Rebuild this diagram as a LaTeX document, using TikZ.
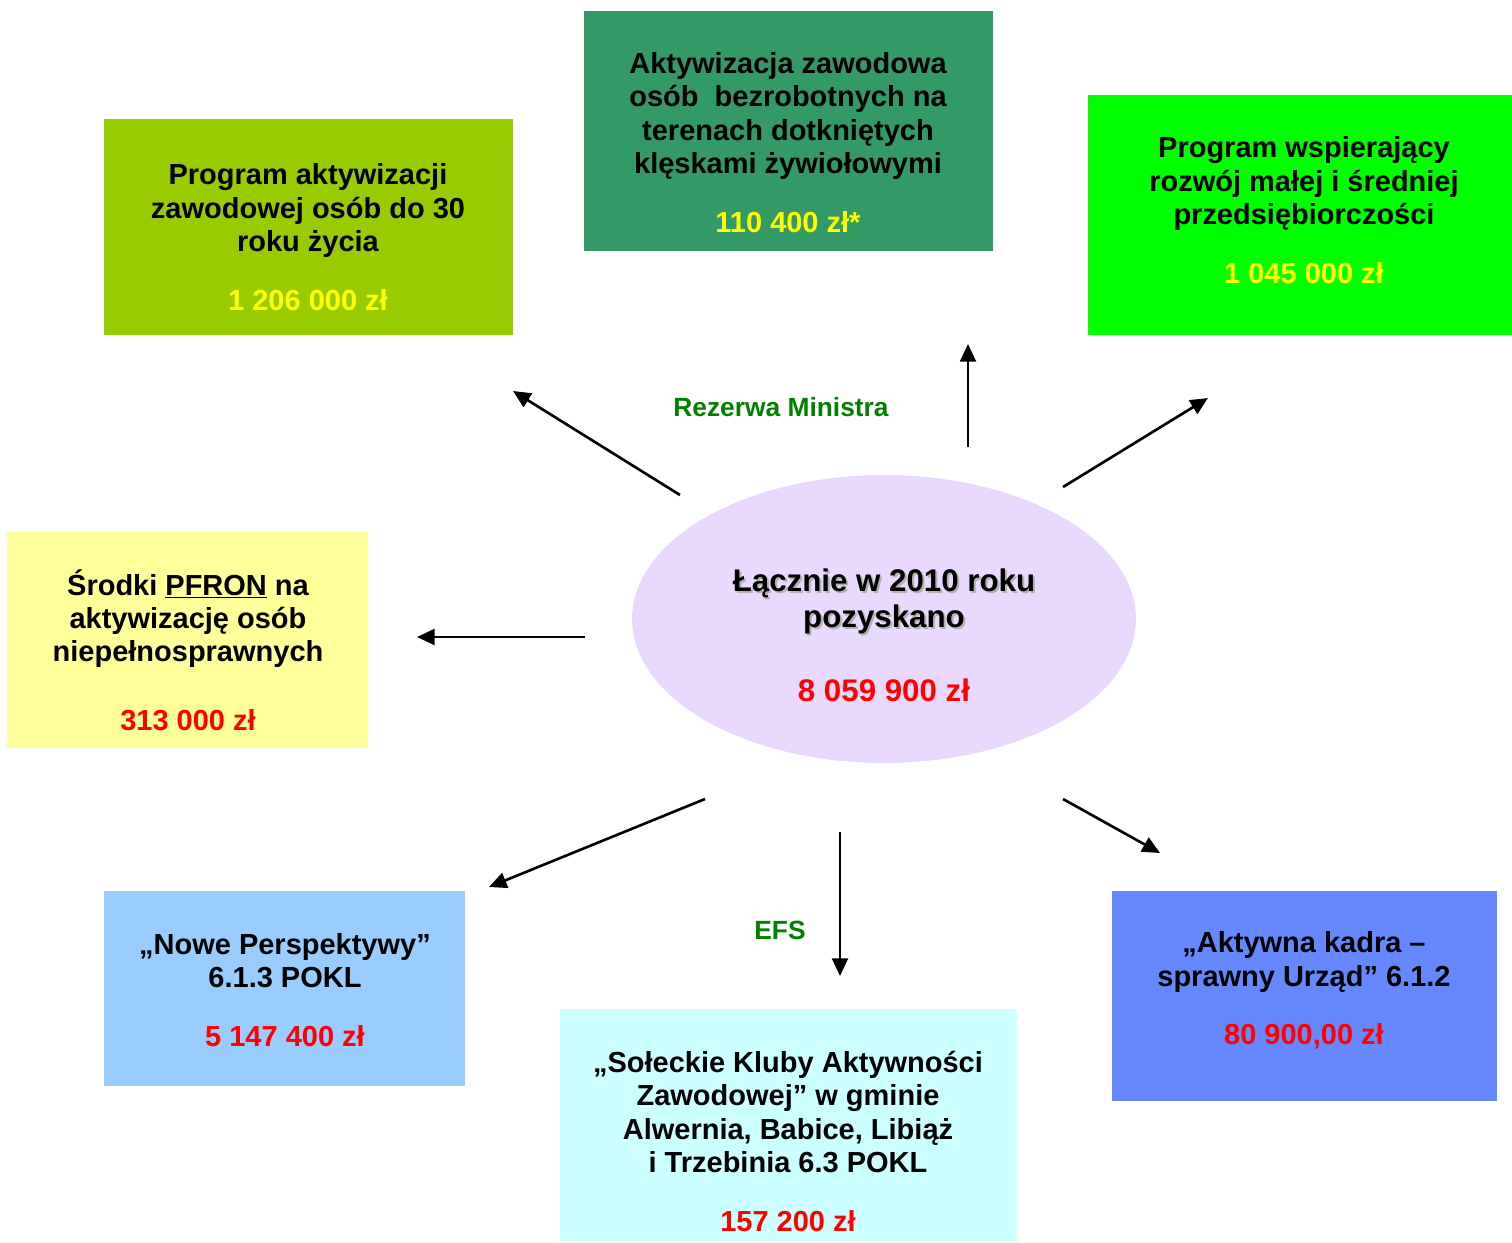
\documentclass[tikz,border=0pt]{standalone}
\usepackage{fontspec}
\setmainfont{Liberation Sans}
\usetikzlibrary{arrows.meta,shapes.geometric}
\definecolor{cOne}{HTML}{99CC00}
\definecolor{cTwo}{HTML}{339966}
\definecolor{cThree}{HTML}{00FF00}
\definecolor{cFour}{HTML}{FFFF99}
\definecolor{cEll}{HTML}{E9D9FF}
\definecolor{cSix}{HTML}{99CCFF}
\definecolor{cSeven}{HTML}{CCFFFF}
\definecolor{cEight}{HTML}{6688FF}
\definecolor{amtYellow}{HTML}{FFFF00}
\definecolor{amtRed}{HTML}{FF0000}
\definecolor{labGreen}{HTML}{008000}
\begin{document}
\begin{tikzpicture}[x=0.02cm,y=-0.02cm,
  box/.style={rectangle, draw=none, inner sep=0pt, anchor=north west},
  txt/.style={align=center, inner sep=0pt, anchor=south, font=\fontsize{16.5}{19}\selectfont\bfseries},
  ellTxt/.style={align=center, inner sep=0pt, anchor=south, font=\fontsize{17.8}{20.5}\selectfont\bfseries},
  arr/.style={-{Triangle[length=10pt,width=9pt]}, line width=1.5pt},
  lbl/.style={anchor=base, inner sep=0pt, text=labGreen, font=\fontsize{15}{18}\selectfont\bfseries}]
\useasboundingbox (0,0) rectangle (1512,1242);

% boxes
\node[box, fill=cOne, minimum width=8.18cm, minimum height=4.32cm] (b1) at (104,119) {};
\node[box, fill=cTwo, minimum width=8.18cm, minimum height=4.8cm] (b2) at (584,11) {};
\node[box, fill=cThree, minimum width=8.48cm, minimum height=4.8cm] (b3) at (1088,95) {};
\node[box, fill=cFour, minimum width=7.22cm, minimum height=4.32cm] (b4) at (7,532) {};
\node[ellipse, fill=cEll, draw=none, inner sep=0pt, minimum width=10.08cm, minimum height=5.76cm] (ell) at (884,619) {};
\node[box, fill=cSix, minimum width=7.22cm, minimum height=3.9cm] (b6) at (104,891) {};
\node[box, fill=cSeven, minimum width=9.14cm, minimum height=4.66cm] (b7) at (560,1009) {};
\node[box, fill=cEight, minimum width=7.7cm, minimum height=4.2cm] (b8) at (1112,891) {};

% texts
\node[txt] (t1) at (308,311) {Program aktywizacji\\zawodowej osób do 30\\roku życia\\[14.5pt]\textcolor{amtYellow}{1 206 000 zł}};
\node[txt] (t2) at (788,233) {Aktywizacja zawodowa\\osób \ bezrobotnych na\\terenach dotkniętych\\klęskami żywiołowymi\\[14.5pt]\textcolor{amtYellow}{110 400 zł*}};
\node[txt] (t3) at (1304,284) {Program wspierający\\rozwój małej i średniej\\przedsiębiorczości\\[14.5pt]\textcolor{amtYellow}{1 045 000 zł}};
\node[txt] (t4) at (188,731) {Środki \underline{PFRON} na\\aktywizację osób\\niepełnosprawnych\\[20pt]\textcolor{amtRed}{313 000 zł}};
\node[ellTxt, text=black!30] (ellShadow) at ([shift={(2,2)}]884,702) {Łącznie w 2010 roku\\pozyskano\\[21.5pt]\phantom{8 059 900 zł}};
\node[ellTxt] (tEll) at (884,702) {Łącznie w 2010 roku\\pozyskano\\[21.5pt]\textcolor{amtRed}{8 059 900 zł}};
\node[txt] (t6) at (285,1047) {„Nowe Perspektywy”\\6.1.3 POKL\\[14.5pt]\textcolor{amtRed}{5 147 400 zł}};
\node[txt] (t7) at (788,1232) {„Sołeckie Kluby Aktywności\\Zawodowej” w gminie\\Alwernia, Babice, Libiąż\\i Trzebinia 6.3 POKL\\[14.5pt]\textcolor{amtRed}{157 200 zł}};
\node[txt] (t8) at (1304,1049) {„Aktywna kadra –\\sprawny Urząd” 6.1.2\\[14pt]\textcolor{amtRed}{80 900,00 zł}};

% labels
\node[lbl] (lRez) at (781,416) {Rezerwa Ministra};
\node[lbl] (lEfs) at (780,939) {EFS};

% arrow end points
\coordinate (s1) at (680,495); \coordinate (e1) at (513,391);
\coordinate (s2) at (968,447); \coordinate (e2) at (968,344);
\coordinate (s3) at (1063,487); \coordinate (e3) at (1208,398);
\coordinate (s4) at (585,637); \coordinate (e4) at (417,637);
\coordinate (s6) at (705,799); \coordinate (e6) at (489,887);
\coordinate (s7) at (840,832); \coordinate (e7) at (840,976);
\coordinate (s8) at (1063,799); \coordinate (e8) at (1160,853);

\draw[arr] (s1) -- (e1);
\draw[arr] (s2) -- (e2);
\draw[arr] (s3) -- (e3);
\draw[arr] (s4) -- (e4);
\draw[arr] (s6) -- (e6);
\draw[arr] (s7) -- (e7);
\draw[arr] (s8) -- (e8);
\end{tikzpicture}
\end{document}
